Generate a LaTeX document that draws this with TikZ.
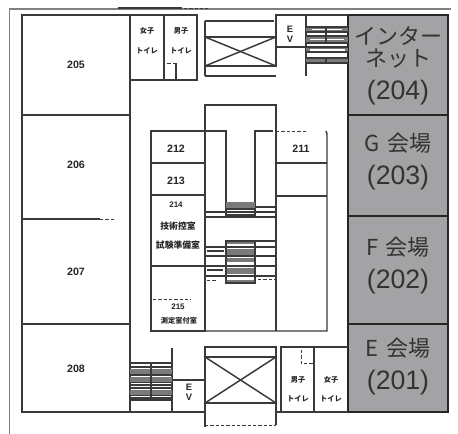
\documentclass[tikz,border=0pt]{standalone}
\usepackage{fontspec}
\setmainfont{Noto Sans CJK JP}
\newfontfamily\lat{Liberation Sans}
\definecolor{wall}{HTML}{3A3A3A}
\definecolor{hall}{HTML}{A3A3A5}
\definecolor{tread}{HTML}{7A7A7A}
\tikzset{
 wallline/.style={draw=wall,line width=1.1pt},
 thin wall/.style={draw=wall,line width=0.8pt},
 hallroom/.style={draw=black!85,line width=1.3pt,fill=hall},
 bigt/.style={font=\fontsize{16.5}{20}\selectfont,text=black!80,align=center,inner sep=0pt},
 bign/.style={font=\lat\fontsize{20}{22}\selectfont,text=black!80,inner sep=0pt},
 roomno/.style={font=\lat\bfseries\fontsize{8}{9}\selectfont,text=black!85,inner sep=0pt},
 small/.style={font=\bfseries\fontsize{5.4}{7}\selectfont,text=black!85,inner sep=0pt},
 tiny/.style={font=\bfseries\fontsize{6.6}{8}\selectfont,text=black!85,inner sep=0pt},
 evt/.style={font=\lat\bfseries\fontsize{7}{8}\selectfont,text=black!85,inner sep=0pt},
 dashes/.style={draw=wall,line width=0.7pt,dash pattern=on 2.5pt off 1.5pt},
 x=0.75pt,y=-0.75pt
}
\begin{document}
\begin{tikzpicture}
\useasboundingbox (0,0) rectangle (458,434);
\fill[white] (0,0) rectangle (458,434);
% outer frame
\draw[draw=gray,line width=1.2pt] (9.5,434) -- (9.5,9) -- (451,9);
\draw[draw=wall,line width=1.2pt] (118,8) -- (182,8);
\draw[dashes] (184,8) -- (208,8);
% halls
\path[hallroom] (348,15) rectangle (448,115);
\path[hallroom] (348,115) rectangle (448,324);
\path[hallroom] (348,324) rectangle (448,412);
\draw[draw=black!85,line width=1.3pt] (348,216) -- (448,216);
% left rooms
\draw[wallline] (130,15) -- (22,15) -- (22,412) -- (205,412);
\draw[wallline] (22,115) -- (130,115);
\draw[wallline] (22,324) -- (130,324);
\draw[wallline] (22,219) -- (100,219);
\draw[dashes] (100,219) -- (116,219);
\draw[wallline] (130,15) -- (130,412);
% top toilets
\draw[wallline] (130,15) -- (197,15) -- (197,80) -- (130,80);
\draw[wallline] (164,15) -- (164,80);
\draw[wallline] (176,80) -- (176,63);
\draw[dashes] (176,63) -- (164,63);
% top elevator hall
\draw[wallline] (205,21) -- (274,21);
\draw[wallline] (205,76) -- (276,76);
\draw[wallline] (205,21) -- (205,76);
\draw[wallline] (205,37) rectangle (276,66);
\draw[wallline] (205,37) -- (276,66);
\draw[wallline] (205,66) -- (276,37);
\draw[wallline] (276,66) -- (276,47);
% top EV
\draw[wallline] (276,47) -- (276,15) -- (348,15);
\draw[wallline] (276,47) -- (306,47);
\draw[wallline] (306,15) -- (306,76);
% top stairs
\fill[tread] (306,27) rectangle (348,32);
\fill[tread] (306,36) rectangle (348,43);
\fill[tread] (306,47) rectangle (348,52);
\fill[tread] (306,58) rectangle (348,63);
\foreach \yy in {27,32,36,43,47,52,58,63}{\draw[thin wall] (306,\yy) -- (348,\yy);}
\fill[white] (312,29) rectangle (342,30.5);
\fill[white] (310,39) rectangle (344,40.5);
\fill[white] (310,49.5) rectangle (345,51);
\fill[white] (310,54) rectangle (345,57);
\draw[thin wall] (326,27) -- (326,43);
\draw[thin wall] (326,58) -- (326,63);
% central block
\draw[wallline] (205,131) -- (205,105) -- (276,105) -- (276,331);
\draw[wallline] (151,131) rectangle (205,331);
\draw[wallline] (205,131) -- (226,131) -- (226,217);
\draw[wallline] (255,217) -- (255,131) -- (273,131);
\draw[dashes] (276,131) -- (308,131);
\draw[wallline] (205,131) -- (205,331);
\draw[wallline] (326,131) -- (327,134) -- (327,331) -- (151,331);
\draw[wallline] (151,163) -- (205,163);
\draw[wallline] (151,195) -- (205,195);
\draw[wallline] (151,266) -- (205,266);
\draw[wallline] (276,163) -- (327,163);
\draw[wallline] (276,196) -- (327,196);
\draw[dashes] (153,299) -- (191,299);
% central upper stairs
\fill[tread] (226,202) rectangle (255,209);
\draw[thin wall] (226,209) -- (255,209);
\foreach \yy in {212,217}{\draw[wallline] (205,\yy) -- (276,\yy);}
\draw[thin wall] (226,215) -- (255,215);
\draw[thin wall] (255,207) -- (276,207);
% central lower stairs
\fill[tread] (226,241) rectangle (255,244);
\fill[tread] (226,249) rectangle (255,255);
\fill[tread] (226,258) rectangle (255,262);
\fill[tread] (226,268) rectangle (255,274);
\fill[tread] (226,280) rectangle (255,283);
\draw[wallline] (226,241) rectangle (255,283);
\foreach \yy in {247,256,266,276}{\draw[wallline] (205,\yy) -- (276,\yy);}
\draw[wallline] (255,241) -- (276,241);
\draw[dashes] (259,241) -- (274,241);
\draw[thin wall] (207,251) -- (224,251);
\draw[thin wall] (207,270) -- (223,270);
\draw[dashes] (207,280) -- (217,280);
\draw[dashes] (258,279) -- (275,279);
% bottom elevator hall
\draw[wallline] (205,427) -- (205,347) -- (276,347) -- (276,425);
\draw[wallline] (205,357) rectangle (276,403);
\draw[wallline] (205,357) -- (276,403);
\draw[wallline] (205,403) -- (276,357);
\draw[dashes] (205,425) -- (276,425);
% bottom EV + stairs
\draw[wallline] (172,348) -- (172,412);
\draw[wallline] (172,380) -- (205,380);
\foreach \yy in {363,367,372,375,379,382,385,388,392,395,398,400}{\draw[wallline] (130,\yy) -- (172,\yy);}
\fill[tread] (130,369) rectangle (172,374);
\fill[tread] (130,377) rectangle (172,382);
\fill[tread] (130,390) rectangle (172,395);
\draw[wallline] (151,363) -- (151,400);
% bottom toilets
\draw[wallline] (281,412) -- (281,347) -- (348,347);
\draw[wallline] (276,412) -- (348,412);
\draw[wallline] (314,347) -- (314,412);
\draw[dashes] (301,350) -- (301,363) -- (313,363);
% labels
\node[bigt] (n204a) at (398,36) {インター};
\node[bigt] (n204b) at (398,59) {ネット};
\node[bign] (n204c) at (398,93) {(204)};
\node[bigt] (n203a) at (398,143) {G\,\,会場};
\node[bign] (n203b) at (398,178) {(203)};
\node[bigt] (n202a) at (398,247) {F\,\,会場};
\node[bign] (n202b) at (398,282) {(202)};
\node[bigt] (n201a) at (398,348) {E\,\,会場};
\node[bign] (n201b) at (398,383) {(201)};
\node[roomno] (r205) at (76,65) {205};
\node[roomno] (r206) at (76,165) {206};
\node[roomno] (r207) at (76,272) {207};
\node[roomno] (r208) at (76,369) {208};
\node[roomno] (r212) at (176,149) {212};
\node[roomno] (r213) at (176,181) {213};
\node[roomno,font=\lat\bfseries\fontsize{6}{7}\selectfont] (r214) at (176,205) {214};
\node[roomno] (r211) at (301,149) {211};
\node[roomno,font=\lat\bfseries\fontsize{6}{7}\selectfont] (r215) at (178,307) {215};
\node[tiny] (t1) at (178,226) {技術控室};
\node[tiny] (t2) at (178,245) {試験準備室};
\node[small] (t3) at (179,321) {測定室付室};
\node[small] (wa) at (147,31) {女子};
\node[small] (wb) at (147,51) {トイレ};
\node[small] (ma) at (181,31) {男子};
\node[small] (mb) at (181,51) {トイレ};
\node[small] (mc) at (298,380) {男子};
\node[small] (md) at (298,399) {トイレ};
\node[small] (wc) at (331,380) {女子};
\node[small] (wd) at (331,399) {トイレ};
\node[evt] (ev1) at (290,29) {E};
\node[evt] (ev2) at (290,39) {V};
\node[evt] (ev3) at (189,387) {E};
\node[evt] (ev4) at (189,397) {V};
\end{tikzpicture}
\end{document}
